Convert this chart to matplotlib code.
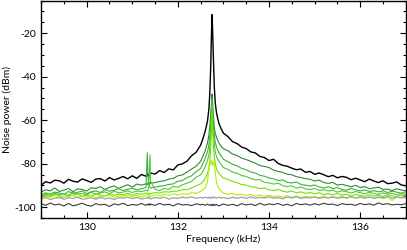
import numpy as np
import matplotlib
matplotlib.use("Agg")
import matplotlib.pyplot as plt
from matplotlib.ticker import MultipleLocator

plt.rcParams['font.family'] = ['Lato', 'DejaVu Sans']
plt.rcParams['axes.unicode_minus'] = False

# Frequency grid (kHz), in segments
f_left = [round(129.0 + 0.1 * i, 2) for i in range(24)]          # 129.0 .. 131.3
f_spike = [131.33, 131.35, 131.37, 131.39]
f_mid = [round(131.4 + 0.1 * i, 2) for i in range(12)]           # 131.4 .. 132.5
f_peak = [132.55, 132.6, 132.65, 132.68, 132.7, 132.72, 132.74, 132.75,
          132.76, 132.78, 132.8, 132.82, 132.85, 132.9, 132.95]
f_right = [round(133.0 + 0.1 * i, 2) for i in range(41)]         # 133.0 .. 137.0
freq = f_left + f_spike + f_mid + f_peak + f_right

black = ([-90.0, -88.3, -88.9, -87.6, -87.9, -89.0, -87.2, -88.1, -88.5, -87.0,
          -87.8, -88.6, -87.1, -86.9, -88.0, -86.4, -87.5, -86.8, -85.9, -87.0,
          -85.6, -86.8, -85.0, -85.8]
         + [-84.6, -85.9, -84.9, -85.1]
         + [-84.3, -84.8, -83.2, -84.1, -82.4, -82.9, -80.6, -80.1, -78.9, -76.4, -74.8, -71.5]
         + [-68.5, -65.0, -60.5, -55.0, -48.0, -36.0, -18.0, -11.5, -17.0, -32.0, -45.0, -52.0, -57.0, -61.5, -64.0]
         + [-66.0, -67.6, -69.9, -70.8, -72.4, -73.1, -74.6, -75.1, -76.7, -77.2,
            -78.6, -78.0, -79.9, -80.8, -81.2, -82.1, -82.8, -82.5, -84.0, -83.6,
            -84.9, -84.3, -85.1, -86.0, -85.4, -86.5, -85.9, -86.3, -87.4, -86.7,
            -87.5, -88.3, -87.1, -88.0, -88.7, -87.9, -89.2, -89.0, -88.4, -89.8,
            -90.2])

dark_green = ([-93.1, -92.0, -92.5, -91.2, -92.8, -92.2, -91.4, -92.9, -91.6, -91.9,
               -92.6, -91.1, -91.4, -90.6, -91.9, -90.9, -90.2, -91.4, -90.5, -89.7,
               -90.8, -89.4, -89.9, -89.3]
              + [-89.6, -88.8, -89.7, -88.5]
              + [-89.0, -88.7, -88.2, -87.9, -87.1, -86.8, -85.6, -85.2, -83.9, -82.5, -81.2, -78.9]
              + [-76.5, -74.0, -70.5, -67.0, -63.0, -58.0, -51.0, -48.0, -51.0, -58.0, -63.5, -66.0, -68.0, -70.5, -72.0]
              + [-73.2, -74.1, -75.6, -76.3, -77.5, -78.1, -79.0, -79.8, -80.9, -81.3,
                 -81.8, -83.0, -83.6, -84.0, -84.9, -85.1, -86.0, -86.4, -86.9, -87.2,
                 -88.0, -87.6, -88.7, -89.1, -88.6, -89.9, -89.5, -90.1, -90.6, -90.0,
                 -91.0, -90.6, -91.5, -91.2, -90.8, -91.9, -91.7, -92.4, -91.6, -92.1,
                 -92.5])

mid_green = ([-94.3, -93.4, -94.0, -93.1, -93.5, -94.2, -92.8, -93.7, -93.2, -92.6,
              -93.8, -92.9, -92.6, -93.3, -91.9, -92.7, -92.2, -91.5, -92.4, -91.8,
              -91.3, -92.1, -91.6, -90.9]
             + [-75.0, -88.0, -90.5, -91.0]
             + [-91.2, -90.8, -90.4, -90.1, -89.6, -89.3, -88.1, -87.8, -86.5, -85.6, -83.7, -82.2]
             + [-80.0, -77.5, -74.5, -71.5, -67.5, -62.0, -54.0, -50.0, -54.0, -62.0, -67.0, -70.0, -72.5, -75.0, -76.5]
             + [-78.0, -79.1, -80.3, -81.0, -82.2, -82.8, -83.9, -84.3, -85.4, -85.8,
                -86.6, -87.0, -87.8, -87.5, -88.6, -88.9, -88.4, -89.6, -89.9, -90.3,
                -89.8, -90.7, -91.2, -90.6, -91.5, -91.0, -91.9, -92.2, -91.4, -92.0,
                -92.6, -92.1, -92.8, -92.4, -93.0, -92.5, -93.3, -92.7, -93.1, -93.6,
                -92.9])

green = ([-94.9, -94.1, -94.6, -93.6, -94.4, -93.9, -94.8, -93.2, -94.0, -93.7,
          -94.5, -93.1, -94.2, -93.5, -93.0, -93.8, -92.7, -93.4, -93.1, -92.5,
          -93.3, -92.6, -92.9, -92.2]
         + [-92.6, -92.0, -86.0, -76.0]
         + [-88.0, -91.8, -92.5, -91.4, -91.9, -90.4, -90.9, -89.7, -89.0, -88.2, -86.3, -85.1]
         + [-83.5, -81.5, -78.5, -76.0, -72.5, -66.0, -58.0, -53.0, -58.0, -66.0, -71.0, -74.5, -77.0, -79.0, -80.5]
         + [-81.8, -82.7, -83.9, -84.4, -85.5, -85.9, -86.8, -87.5, -87.3, -88.6,
            -88.9, -89.4, -89.0, -90.1, -90.6, -90.2, -91.3, -90.8, -91.6, -91.9,
            -91.4, -92.3, -92.0, -92.6, -92.2, -93.1, -92.5, -92.9, -93.5, -92.8,
            -93.4, -93.9, -93.2, -93.7, -94.1, -93.4, -94.0, -93.6, -94.3, -93.8,
            -94.2])

bright_green = ([-95.3, -94.6, -95.1, -94.0, -94.8, -95.4, -94.3, -94.7, -93.9, -95.0,
                 -94.4, -94.9, -93.8, -94.5, -95.0, -93.9, -94.6, -94.0, -94.3, -93.6,
                 -94.5, -93.7, -94.1, -93.5]
                + [-94.0, -93.4, -94.3, -93.7]
                + [-93.8, -93.3, -93.6, -92.9, -93.1, -92.7, -92.6, -91.9, -92.0, -91.2, -90.2, -89.3]
                + [-88.2, -86.8, -84.5, -82.5, -79.0, -73.0, -64.0, -57.0, -63.0, -72.0, -77.0, -80.0, -82.5, -84.5, -85.6]
                + [-86.6, -87.3, -88.2, -88.8, -89.6, -89.9, -90.6, -90.9, -91.5, -91.2,
                   -92.0, -92.4, -91.8, -92.7, -93.1, -92.6, -93.4, -93.0, -93.7, -93.3,
                   -93.9, -93.4, -94.2, -93.8, -94.4, -93.7, -94.5, -94.1, -94.8, -94.2,
                   -94.6, -95.0, -94.3, -94.9, -94.5, -95.2, -94.4, -94.8, -95.1, -94.5,
                   -94.7])

lime = ([-95.8, -95.1, -95.5, -94.6, -95.9, -95.0, -95.2, -94.4, -95.6, -95.0,
         -95.3, -94.6, -95.8, -94.9, -95.1, -94.5, -95.5, -94.8, -95.0, -94.3,
         -95.2, -94.6, -95.4, -94.5]
        + [-95.0, -94.7, -95.2, -94.8]
        + [-95.0, -94.4, -94.9, -94.1, -94.6, -93.9, -94.4, -93.8, -94.1, -93.4, -93.6, -92.8]
        + [-92.0, -91.0, -88.5, -82.0, -79.0, -80.5, -78.5, -79.5, -81.0, -79.0, -80.0, -84.0, -89.0, -91.5, -92.5]
        + [-93.6, -94.0, -93.7, -94.4, -94.0, -94.7, -94.2, -95.0, -94.4, -95.1,
           -94.6, -95.2, -94.8, -95.4, -94.7, -95.5, -94.9, -95.6, -95.0, -95.4,
           -95.2, -95.7, -94.9, -95.8, -95.2, -95.6, -95.0, -96.0, -95.3, -95.7,
           -95.1, -96.0, -95.4, -95.8, -95.2, -96.1, -95.5, -96.9, -95.3, -95.9,
           -95.5])

light_gray = ([-96.2, -95.6, -96.5, -95.9, -95.5, -96.4, -95.7, -96.0, -95.4, -96.3,
               -96.1, -95.6, -96.4, -95.5, -96.2, -95.8, -96.5, -95.6, -95.9, -95.4,
               -96.1, -95.5, -96.3, -95.8]
              + [-95.9, -95.5, -96.1, -95.7]
              + [-96.2, -95.6, -95.9, -95.4, -96.3, -95.7, -96.0, -95.4, -95.8, -95.3, -95.9, -95.5]
              + [-95.9, -95.4, -95.8, -95.5, -96.0, -95.6, -95.8, -95.4, -95.7, -95.3, -95.8, -95.5, -95.9, -95.4, -95.8]
              + [-95.6, -96.1, -95.5, -95.9, -95.4, -96.0, -95.3, -95.9, -95.5, -95.8,
                 -95.3, -95.9, -95.6, -96.2, -95.4, -95.8, -95.2, -96.0, -95.6, -95.7,
                 -95.4, -96.0, -95.5, -95.8, -95.3, -95.9, -95.5, -95.7, -95.2, -95.9,
                 -95.4, -95.8, -95.3, -96.0, -95.5, -95.7, -95.1, -95.8, -95.4, -95.6,
                 -95.3])

dark_gray = ([-98.4, -99.2, -98.1, -99.0, -98.6, -99.5, -98.3, -99.4, -98.9, -98.2,
              -99.1, -99.6, -98.4, -99.0, -98.7, -99.7, -98.5, -99.0, -98.2, -99.3,
              -98.8, -99.1, -98.3, -99.2]
             + [-98.7, -99.0, -98.4, -99.1]
             + [-98.6, -99.2, -98.3, -99.0, -98.7, -99.4, -98.4, -99.0, -98.8, -99.3, -98.5, -98.9]
             + [-98.7, -99.2, -98.6, -99.0, -98.9, -99.3, -98.7, -99.1, -98.9, -99.3, -98.6, -99.2, -98.8, -99.5, -98.9]
             + [-98.6, -99.2, -98.7, -99.4, -98.4, -99.0, -98.6, -99.3, -98.2, -99.1,
                -98.5, -98.9, -98.3, -99.2, -98.7, -99.4, -98.3, -98.9, -98.5, -99.1,
                -98.4, -99.0, -98.2, -98.8, -98.6, -99.3, -98.4, -98.8, -98.7, -99.2,
                -98.3, -98.9, -98.5, -99.1, -98.1, -98.8, -98.4, -99.0, -98.7, -98.9,
                -98.4])

series = [
    (black, '#000000', 1.0),
    (dark_green, '#2e8a2e', 0.8),
    (mid_green, '#3fae3f', 0.8),
    (green, '#50c832', 0.8),
    (bright_green, '#74e000', 0.8),
    (lime, '#b0f000', 0.8),
    (light_gray, '#a8a8a8', 1.0),
    (dark_gray, '#3c3c3c', 0.8),
]

fig = plt.figure(figsize=(4.07, 2.5), dpi=100)
ax = fig.add_axes([0.101, 0.128, 0.896, 0.870])

for vals, col, lw in series:
    assert len(vals) == len(freq)
    ax.plot(freq, vals, color=col, lw=lw)

ax.set_xlim(129, 137)
ax.set_ylim(-105, -5)
ax.xaxis.set_major_locator(MultipleLocator(2))
ax.xaxis.set_minor_locator(MultipleLocator(0.5))
ax.yaxis.set_major_locator(MultipleLocator(20))
ax.yaxis.set_minor_locator(MultipleLocator(5))
ax.tick_params(which='both', direction='in', top=True, right=True, labelsize=7.5, width=0.8)
ax.tick_params(which='major', length=4)
ax.tick_params(which='minor', length=2)
for s in ax.spines.values():
    s.set_linewidth(1.0)

ax.set_xlabel('Frequency (kHz)', fontsize=7.5, labelpad=2)
ax.set_ylabel('Noise power (dBm)', fontsize=7.5, labelpad=2)

fig.savefig('out.png', dpi=100)
